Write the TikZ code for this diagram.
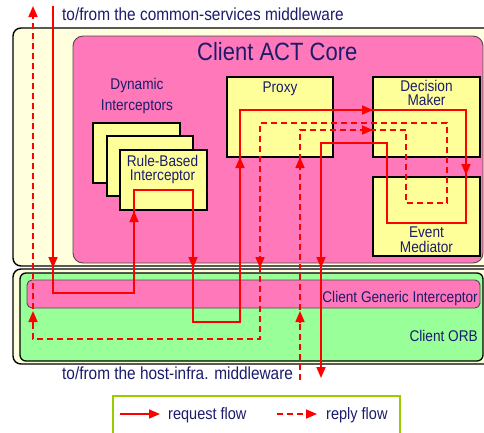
\documentclass[tikz,border=0pt]{standalone}
\usepackage{fontspec}
\setmainfont{Liberation Sans}[FakeStretch=0.88]
\usetikzlibrary{arrows.meta}
\definecolor{outery}{HTML}{FFFFDD}
\definecolor{corepink}{HTML}{FF78B9}
\definecolor{boxy}{HTML}{FFFF99}
\definecolor{orbgreen}{HTML}{99FF99}
\definecolor{navy}{HTML}{1C1C6C}
\definecolor{flowred}{HTML}{FF0000}
\definecolor{legolive}{HTML}{99CC00}
\tikzset{
  outerbox/.style={draw=black, line width=1.4pt, fill=outery, rounded corners=8pt},
  ybox/.style={draw=black, line width=1.5pt, fill=boxy, inner sep=0pt},
  lbl/.style={text=navy, inner sep=0pt, font=\fontsize{15.5}{18}\selectfont},
  biglbl/.style={text=navy, inner sep=0pt, font=\fontsize{17.5}{20}\selectfont},
  leglbl/.style={text=navy, inner sep=0pt, font=\fontsize{16.5}{19}\selectfont},
  reqline/.style={draw=flowred, line width=1.6pt},
  repline/.style={reqline, dash pattern=on 6pt off 4pt},
  tip/.style={-{Triangle[length=11pt,width=9pt]}},
}
\begin{document}
\begin{tikzpicture}[x=1pt,y=-1pt]
\clip (0,0) rectangle (484,432);
\fill[white] (0,0) rectangle (484,432);

% containers
\draw[outerbox] (13,28) rectangle (500,266);
\draw[draw=black!70, line width=0.9pt, fill=corepink, rounded corners=10pt] (73,36) rectangle (483,263);
\draw[outerbox] (13,269) rectangle (500,364);
\draw[draw=black, line width=1.3pt, fill=orbgreen, rounded corners=6pt] (20,273) rectangle (483,361);
\node[draw=black!70, line width=0.9pt, fill=corepink, rounded corners=5pt, minimum width=453pt, minimum height=28pt, inner sep=0pt] (cgi) at (253.5,294) {};

% boxes
\node[ybox, minimum width=87pt, minimum height=60pt] (di1) at (136.5,153) {};
\node[ybox, minimum width=86pt, minimum height=60pt] (di2) at (150,166) {};
\node[ybox, minimum width=87pt, minimum height=60pt] (rbi) at (163.5,180) {};
\node[ybox, minimum width=106pt, minimum height=80pt] (proxy) at (280,117) {};
\node[ybox, minimum width=107pt, minimum height=80pt] (dm) at (426.5,117) {};
\node[ybox, minimum width=107pt, minimum height=79pt] (em) at (426.5,216.5) {};

% texts
\node[biglbl, anchor=base west] (toptxt) at (62,20) {to/from the common-services middleware};
\node[biglbl, anchor=base west] (bottxt) at (62,379) {to/from the host-infra. middleware};
\node[text=navy, inner sep=0pt, font=\fontsize{25}{28}\selectfont, anchor=base west] (title) at (197,60) {Client ACT Core};
\node[lbl, anchor=base] (dyn1) at (137,89) {Dynamic};
\node[lbl, anchor=base] (dyn2) at (137,110) {Interceptors};
\node[lbl, anchor=base] (rb1) at (162.5,166) {Rule-Based};
\node[lbl, anchor=base] (rb2) at (162.5,180) {Interceptor};
\node[lbl, anchor=base] (px) at (280,92) {Proxy};
\node[lbl, anchor=base] (dm1) at (426.5,91) {Decision};
\node[lbl, anchor=base] (dm2) at (426.5,105) {Maker};
\node[lbl, anchor=base] (em1) at (426.5,237) {Event};
\node[lbl, anchor=base] (em2) at (426.5,252) {Mediator};
\node[lbl, anchor=base east] (cgitxt) at (478,302) {Client Generic Interceptor};
\node[lbl, anchor=base east] (orbtxt) at (478,341) {Client ORB};

% request flow path
\coordinate (r0) at (53,6);
\coordinate (r1) at (53,293);
\coordinate (r2) at (134,293);
\coordinate (r3) at (134,190);
\coordinate (r4) at (193,190);
\coordinate (r5) at (193,322);
\coordinate (r6) at (240,322);
\coordinate (r7) at (240,110);
\coordinate (r8) at (466,110);
\coordinate (r9) at (466,223);
\coordinate (r10) at (387,223);
\coordinate (r11) at (387,143);
\coordinate (r12) at (321,143);
\coordinate (r13) at (321,378);
\draw[reqline, tip] (r0) -- (r1) -- (r2) -- (r3) -- (r4) -- (r5) -- (r6) -- (r7) -- (r8) -- (r9) -- (r10) -- (r11) -- (r12) -- (r13);
\draw[reqline, tip] (53,257) -- (53,268);
\draw[reqline, tip] (134,222) -- (134,211);
\draw[reqline, tip] (193,257) -- (193,268);
\draw[reqline, tip] (240,168) -- (240,157);
\draw[reqline, tip] (362,110) -- (373,110);
\draw[reqline, tip] (466,164) -- (466,175);
\draw[reqline, tip] (321,257) -- (321,268);

% reply flow path
\coordinate (p0) at (300,380);
\coordinate (p1) at (300,130);
\coordinate (p2) at (406,130);
\coordinate (p3) at (406,203);
\coordinate (p4) at (447,203);
\coordinate (p5) at (447,123);
\coordinate (p6) at (260,123);
\coordinate (p7) at (260,339);
\coordinate (p8) at (33,339);
\coordinate (p9) at (33,6);
\draw[repline, tip] (p0) -- (p1) -- (p2) -- (p3) -- (p4) -- (p5) -- (p6) -- (p7) -- (p8) -- (p9);
\draw[reqline, tip] (300,322) -- (300,311);
\draw[reqline, tip] (300,168) -- (300,157);
\draw[reqline, tip] (362,130) -- (373,130);
\draw[reqline, tip] (260,257) -- (260,268);
\draw[reqline, tip] (33,322) -- (33,311);

% legend
\draw[draw=legolive, line width=1.6pt, fill=white] (113,396) rectangle (400,445);
\coordinate (la0) at (120,414);
\coordinate (la1) at (160,414);
\coordinate (lb0) at (277,414);
\coordinate (lb1) at (317,414);
\draw[reqline, tip] (la0) -- (la1);
\draw[repline, tip] (lb0) -- (lb1);
\node[leglbl, anchor=base west] (legreq) at (168,419) {request flow};
\node[leglbl, anchor=base west] (legrep) at (326,419) {reply flow};
\end{tikzpicture}
\end{document}
